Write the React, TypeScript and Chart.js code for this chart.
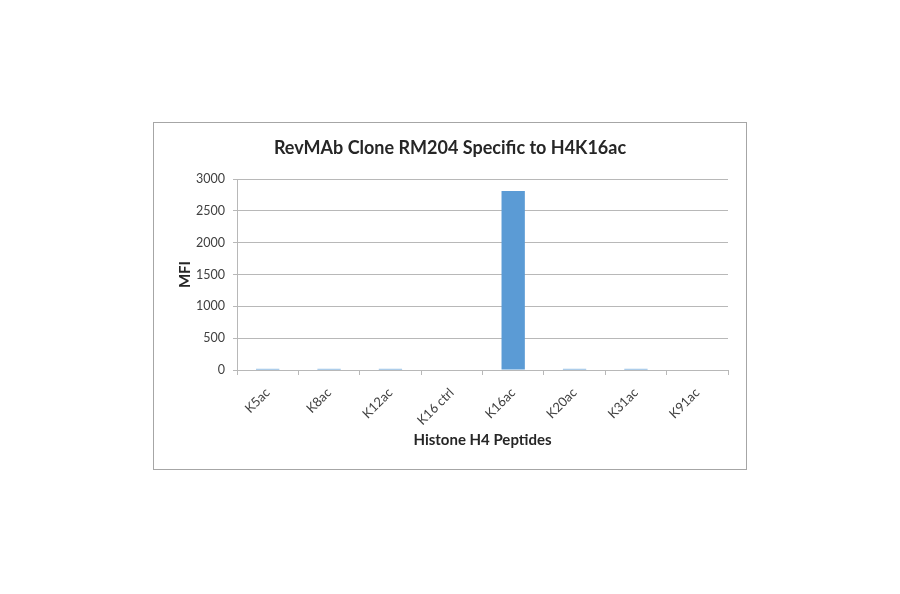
import React, { useRef, useEffect } from 'react';
import { Chart, registerables } from 'chart.js';

Chart.register(...registerables);

// values
const peptides = ['K5ac', 'K8ac', 'K12ac', 'K16 ctrl', 'K16ac', 'K20ac', 'K31ac', 'K91ac'];
const mfiValues = [18, 18, 18, 0, 2810, 18, 18, 0];
const yMax = 3000;
const yStep = 500;

const chartTitle = 'RevMAb Clone RM204 Specific to H4K16ac';
const xTitle = 'Histone H4 Peptides';
const yTitle = 'MFI';

const FONT = 'Lato, "Open Sans", sans-serif';

const App = () => {
    const canvasRef = useRef<HTMLCanvasElement>(null);
    const chartRef = useRef<Chart | null>(null);

    useEffect(() => {
        const ctx = canvasRef.current?.getContext('2d');
        if (!ctx) return;
        if (chartRef.current) chartRef.current.destroy();

        chartRef.current = new Chart(ctx, {
            type: 'bar',
            data: {
                labels: peptides,
                datasets: [
                    {
                        label: 'MFI',
                        data: mfiValues,
                        backgroundColor: '#5B9BD5',
                        borderWidth: 0,
                        categoryPercentage: 1,
                        barPercentage: 0.38,
                    },
                ],
            },
            options: {
                animation: false,
                responsive: true,
                maintainAspectRatio: false,
                layout: { padding: 0 },
                scales: {
                    x: {
                        grid: {
                            drawOnChartArea: false,
                            drawTicks: true,
                            tickLength: 5,
                            offset: true,
                            color: '#b8b8b8',
                        },
                        border: { display: true, color: '#b8b8b8' },
                        ticks: {
                            minRotation: 45,
                            maxRotation: 45,
                            color: '#404040',
                            padding: 10,
                            font: { family: FONT, size: 13 },
                        },
                        title: {
                            display: true,
                            text: xTitle,
                            color: '#262626',
                            font: { family: FONT, size: 15, weight: 'bold' },
                            padding: { top: 0, bottom: 20 },
                        },
                        afterFit: (scale) => {
                            scale.height = 99;
                        },
                    },
                    y: {
                        min: 0,
                        max: yMax,
                        ticks: {
                            stepSize: yStep,
                            color: '#404040',
                            padding: 8,
                            font: { family: FONT, size: 12.5 },
                            callback: (value) => String(value),
                        },
                        grid: {
                            color: '#b8b8b8',
                            tickLength: 4,
                        },
                        border: { display: true, color: '#b8b8b8' },
                        title: {
                            display: true,
                            text: yTitle,
                            color: '#262626',
                            font: { family: FONT, size: 15, weight: 'bold' },
                            padding: { top: 22, bottom: 0 },
                        },
                        afterFit: (scale) => {
                            scale.width = 83;
                        },
                    },
                    // empty right-hand strip so the title centres on the whole box
                    spacer: {
                        type: 'linear',
                        position: 'right',
                        display: true,
                        grid: { display: false },
                        border: { display: false },
                        ticks: { display: false },
                        afterFit: (scale) => {
                            scale.width = 18;
                        },
                    },
                },
                plugins: {
                    legend: { display: false },
                    tooltip: { enabled: false },
                    title: {
                        display: true,
                        text: chartTitle,
                        color: '#262626',
                        font: { family: FONT, size: 18, weight: 'bold' },
                        padding: { top: 14, bottom: 20.4 },
                    },
                },
            },
        });

        return () => {
            if (chartRef.current) {
                chartRef.current.destroy();
                chartRef.current = null;
            }
        };
    }, []);

    return (
        <div
            style={{
                position: 'absolute',
                left: 153,
                top: 122,
                width: 592,
                height: 346,
                border: '1px solid #a6a6a6',
                background: '#ffffff',
            }}
        >
            <canvas ref={canvasRef}></canvas>
        </div>
    );
};

export default App;
